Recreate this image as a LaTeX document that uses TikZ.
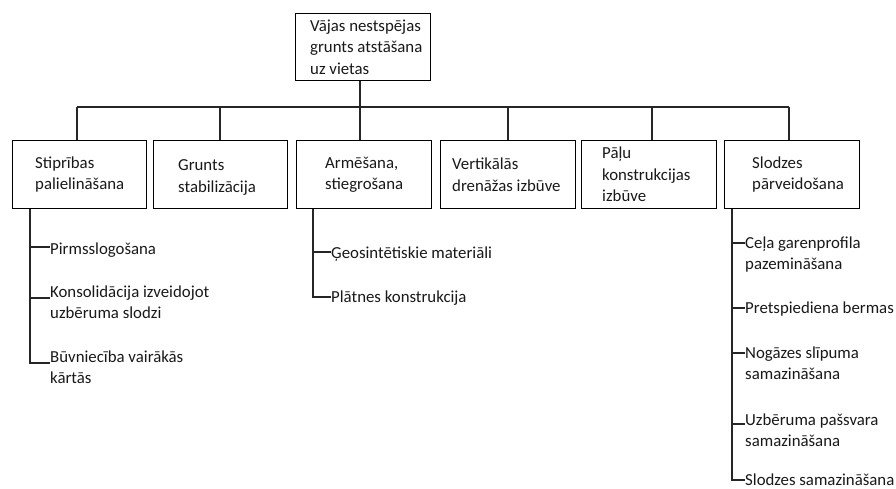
\documentclass[tikz,border=0pt]{standalone}
\usepackage{fontspec}
\setmainfont{Carlito}
\begin{document}
\begin{tikzpicture}[x=1pt,y=-1pt,
  box/.style={draw=black,line width=1.3pt,rectangle,inner sep=0pt,anchor=north west},
  lbl/.style={inner sep=0pt,align=left,font=\fontsize{16.8}{21.5}\selectfont,text=black!90},
  sub/.style={lbl,anchor=base west},
  conn/.style={draw=black!85,line width=1.2pt}]
\useasboundingbox[fill=white] (0,0) rectangle (896,488);
% boxes
\node[box,minimum width=135pt,minimum height=67pt] (top) at (295,13) {};
\node[box,minimum width=134pt,minimum height=68pt] (b1) at (12,140) {};
\node[box,minimum width=134pt,minimum height=68pt] (b2) at (153,140) {};
\node[box,minimum width=135pt,minimum height=68pt] (b3) at (296,140) {};
\node[box,minimum width=135pt,minimum height=68pt] (b4) at (440,140) {};
\node[box,minimum width=135pt,minimum height=68pt] (b5) at (581,140) {};
\node[box,minimum width=135pt,minimum height=68pt] (b6) at (724,140) {};
% box texts
\node[lbl,anchor=west] (ttop) at ([xshift=15pt]top.west) {Vājas nestspējas\\grunts atstāšana\\uz vietas};
\node[lbl,anchor=west] (t1) at ([xshift=23pt]b1.west) {Stiprības\\palielināšana};
\node[lbl,anchor=west] (t2) at ([xshift=25pt,yshift=-3pt]b2.west) {Grunts\\stabilizācija};
\node[lbl,anchor=west] (t3) at ([xshift=29pt]b3.west) {Armēšana,\\stiegrošana};
\node[lbl,anchor=west] (t4) at ([xshift=12pt]b4.west) {Vertikālās\\drenāžas izbūve};
\node[lbl,anchor=west] (t5) at ([xshift=21pt]b5.west) {Pāļu\\konstrukcijas\\izbūve};
\node[lbl,anchor=west] (t6) at ([xshift=28pt]b6.west) {Slodzes\\pārveidošana};
% bus
\coordinate (k1) at (77,107);
\coordinate (k2) at (220,107);
\coordinate (k3) at (360,107);
\coordinate (k4) at (508,107);
\coordinate (k5) at (652,107);
\coordinate (k6) at (789,107);
\draw[conn] (k1) -- (k6);
\draw[conn] (top.south -| k3) -- (k3 |- b3.north);
\foreach \k/\b in {k1/b1,k2/b2,k4/b4,k5/b5,k6/b6}{
  \draw[conn] (\k) -- (\k |- \b.north);
}
% left sub-items (base anchor = baseline of the last line)
\node[sub] (s11) at (50,254) {Pirmsslogošana};
\node[sub] (s12) at (50,318.5) {Konsolidācija izveidojot\\uzbēruma slodzi};
\node[sub] (s13) at (50,383.5) {Būvniecība vairākās\\kārtās};
\coordinate (h11) at (30,247);
\coordinate (h12) at (30,298);
\coordinate (h13) at (30,363);
\draw[conn] (b1.south -| h13) -- (h13) -- (h13 -| s13.west);
\draw[conn] (h11) -- (h11 -| s11.west);
\draw[conn] (h12) -- (h12 -| s12.west);
% middle sub-items
\node[sub] (s31) at (331,258) {Ģeosintētiskie materiāli};
\node[sub] (s32) at (331,302) {Plātnes konstrukcija};
\coordinate (h31) at (313,252);
\coordinate (h32) at (313,297);
\draw[conn] (b3.south -| h32) -- (h32) -- (h32 -| s32.west);
\draw[conn] (h31) -- (h31 -| s31.west);
% right sub-items
\node[sub] (s61) at (745,269.5) {Ceļa garenprofila\\pazemināšana};
\node[sub] (s62) at (745,313) {Pretspiediena bermas};
\node[sub] (s63) at (745,379.5) {Nogāzes slīpuma\\samazināšana};
\node[sub] (s64) at (745,446.5) {Uzbēruma pašsvara\\samazināšana};
\node[sub] (s65) at (745,485) {Slodzes samazināšana};
\coordinate (h61) at (732,243);
\coordinate (h62) at (732,308);
\coordinate (h63) at (732,353);
\coordinate (h64) at (732,424);
\coordinate (h65) at (732,480);
\draw[conn] (b6.south -| h65) -- (h65) -- (h65 -| s65.west);
\draw[conn] (h61) -- (h61 -| s61.west);
\draw[conn] (h62) -- (h62 -| s62.west);
\draw[conn] (h63) -- (h63 -| s63.west);
\draw[conn] (h64) -- (h64 -| s64.west);
\end{tikzpicture}
\end{document}
